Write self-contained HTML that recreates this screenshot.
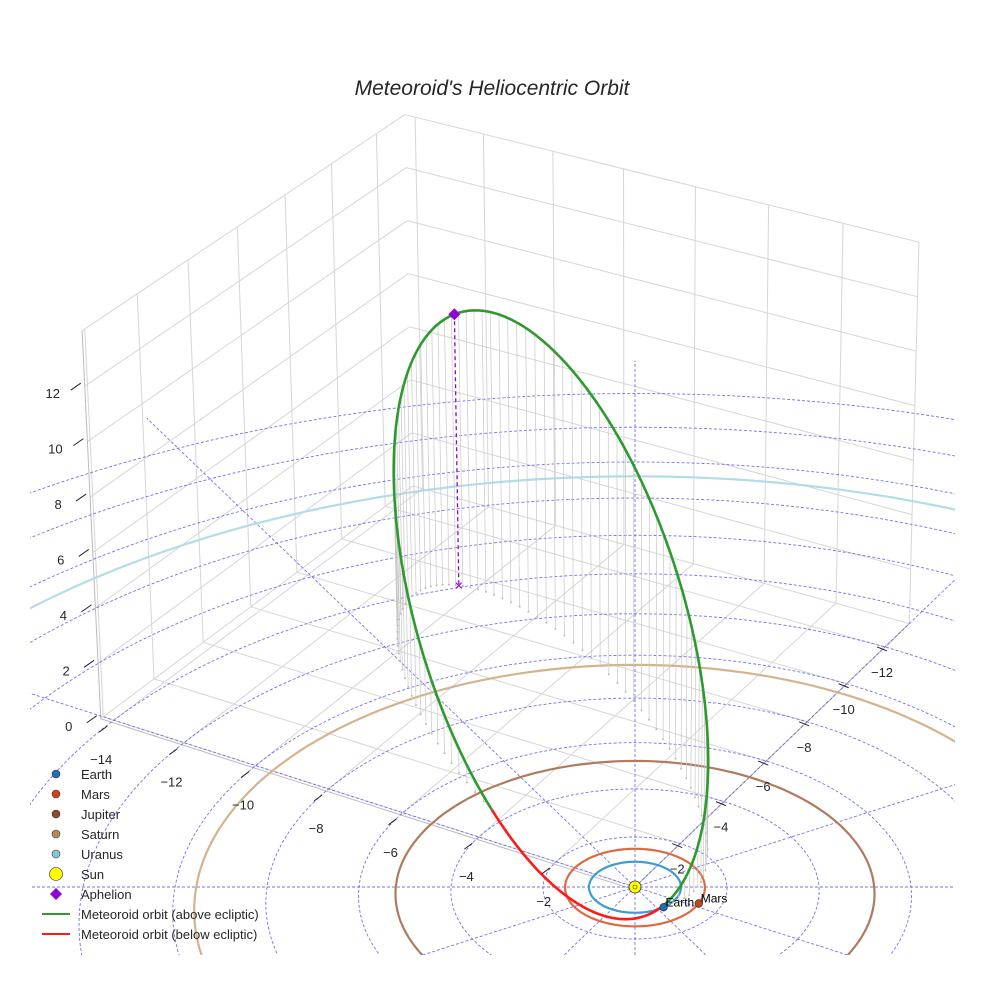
<!DOCTYPE html>
<html><head><meta charset="utf-8">
<style>
html,body{margin:0;padding:0;background:#fff;overflow:hidden;}
svg{display:block;font-family:"Liberation Sans",sans-serif;}
</style></head>
<body>
<svg id="chart" width="984" height="984" viewBox="0 0 984 984">
<defs><clipPath id="clipE"><rect x="30" y="0" width="925" height="955"/></clipPath></defs>
<text x="492" y="95" text-anchor="middle" font-size="21" font-style="italic" fill="#262626">Meteoroid's Heliocentric Orbit</text>
<g id="box"></g>
<g id="ecl" clip-path="url(#clipE)"></g>
<g id="orb" clip-path="url(#clipE)"></g>
<g id="ticks"></g>
<g id="legend"></g>
</svg>
<script>
// ---- data ----
const planetNames = ["Earth", "Mars", "Jupiter", "Saturn", "Uranus"];
const planetRadii = [1.0, 1.52, 5.2, 9.54, 19.2];
const planetColors = ["#3d9bd6", "#dc6a42", "#b07a5e", "#d4b48e", "#b2dde8"];
const markerColors = ["#1f6fb4", "#c8441a", "#8b4a2b", "#b58a62", "#86c6d8"];
const markerAngles = [22, -5];            // heliocentric longitude (deg) of Earth, Mars
const orbitA = 9.05, orbitE = 0.9116, orbitI = 56.5, orbitNode = 194, orbitPeri = 224;
const gridRadii = [2, 4, 6, 8, 10, 12, 14, 16, 18, 20, 22, 24];
const gridSpokes = [0, 30, 60, 90, 120, 150, 180, 210, 240, 270, 300, 330];
const xTicks = [-14, -12, -10, -8, -6, -4, -2];
const yTicks = [-12, -10, -8, -6, -4, -2];
const zTicks = [0, 2, 4, 6, 8, 10, 12];
const xRange = [-14.3, 0], yRange = [-13.3, 0.1], zRange = [0, 14];

// ---- projection ----
const NS = "http://www.w3.org/2000/svg";
const C = Math.cos(Math.PI/6), S = Math.sin(Math.PI/6);
function P(x, y, z) {
  const u = x*C - y*S, v = x*S + y*C;
  const f = 1/(1 - 0.01*v), fz = 1/(1 - 0.004*v);
  return [635 + 46*u*f*(1 + 0.0025*z), 887 + 25.5*v*f - 28.5*z*fz];
}
function mk(tag, attrs, parent) {
  const el = document.createElementNS(NS, tag);
  for (const k in attrs) el.setAttribute(k, attrs[k]);
  parent.appendChild(el);
  return el;
}
function pts(arr) { return arr.map(p => p[0].toFixed(1)+","+p[1].toFixed(1)).join(" "); }

// ---- box & grid ----
const box = document.getElementById("box");
function seg(a, b, col, w, name) {
  const A = P(...a), B = P(...b);
  const l = mk("line", {x1:A[0], y1:A[1], x2:B[0], y2:B[1], stroke:col, "stroke-width":w}, box);
  
  
}
const [x0,x1] = xRange, [y0,y1] = yRange, [z0,z1] = zRange;
const gcol = "#d6d6d6";
for (const t of xTicks.concat([0])) { seg([t,y0,0],[t,y1,0],gcol,1,"floor-grid-x"); seg([t,y0,0],[t,y0,z1],gcol,1,"wall-grid-x"); }
for (const t of yTicks.concat([0])) { seg([x0,t,0],[x1,t,0],gcol,1,"floor-grid-y"); seg([x0,t,0],[x0,t,z1],gcol,1,"wall-grid-y"); }
for (const t of zTicks.concat([14])) { seg([x0,y1,t],[x0,y0,t],gcol,1,"wall-grid-z"); seg([x0,y0,t],[x1,y0,t],gcol,1,"wall-grid-z"); }
seg([x0,y1,0],[x1,y1,0],"#bbb",1,"x-axis-line");
seg([x1,y0,0],[x1,y1,0],"#bbb",1,"y-axis-line");
seg([x0,y1,0],[x0,y1,z1],"#bbb",1,"z-axis-line");

// ---- ecliptic ----
const ecl = document.getElementById("ecl");
function circlePts(r, z) { const a=[]; for (let k=0;k<=360;k+=2){const t=k*Math.PI/180;a.push(P(r*Math.cos(t), r*Math.sin(t), z||0));} return a; }
for (const r of gridRadii) {
  const c = mk("polyline", {points:pts(circlePts(r)), fill:"none", stroke:"#5b5bf0", "stroke-width":0.9, "stroke-dasharray":"3,2", opacity:0.85}, ecl);
  
  
}
for (const a of gridSpokes) {
  const t = a*Math.PI/180, A = P(0,0,0), B = P(26*Math.cos(t), 26*Math.sin(t), 0);
  const l = mk("line", {x1:A[0], y1:A[1], x2:B[0], y2:B[1], stroke:"#5b5bf0", "stroke-width":0.9, "stroke-dasharray":"3,2", opacity:0.85}, ecl);
  
  
}
planetRadii.forEach((r, i) => {
  const c = mk("polyline", {points:pts(circlePts(r)), fill:"none", stroke:planetColors[i], "stroke-width":2.2}, ecl);
  
  
});

// ---- meteoroid orbit ----
const orb = document.getElementById("orb");
const rad = Math.PI/180;
function orbitPos(nu) {
  const p = orbitA*(1-orbitE*orbitE), r = p/(1+orbitE*Math.cos(nu));
  const w = orbitPeri*rad + nu, O = orbitNode*rad, inc = orbitI*rad;
  return [r*(Math.cos(O)*Math.cos(w) - Math.sin(O)*Math.sin(w)*Math.cos(inc)),
          r*(Math.sin(O)*Math.cos(w) + Math.cos(O)*Math.sin(w)*Math.cos(inc)),
          r*Math.sin(w)*Math.sin(inc)];
}
const orbit3 = [];
for (let k=0;k<=1440;k++){
  const E = k/1440*2*Math.PI;
  const nu = 2*Math.atan2(Math.sqrt(1+orbitE)*Math.sin(E/2), Math.sqrt(1-orbitE)*Math.cos(E/2));
  orbit3.push(orbitPos(nu));
}
for (let k=0;k<orbit3.length;k+=14){
  const q = orbit3[k]; if (q[2] <= 0.05) continue;
  const A = P(...q), B = P(q[0],q[1],0);
  const l = mk("line", {x1:A[0], y1:A[1], x2:B[0], y2:B[1], stroke:"#c8c8c8", "stroke-width":0.7}, orb);
  
  
  const d = mk("circle", {cx:B[0], cy:B[1], r:1, fill:"#bbb"}, orb);
  
  
}
let cur = [], curSign = null; const segs = [];
for (const q of orbit3) {
  const s = q[2] >= 0;
  if (curSign === null || s === curSign) { cur.push(P(...q)); }
  else { cur.push(P(...q)); segs.push([curSign, cur]); cur = [P(...q)]; }
  curSign = s;
}
segs.push([curSign, cur]);
segs.forEach(([s, arr]) => {
  const pl = mk("polyline", {points:pts(arr), fill:"none", stroke:s?"#2e9a2e":"#ff1a1a", "stroke-width":2.6, "stroke-linejoin":"round"}, orb);
  
  
});
const aph = orbitPos(Math.PI), AP = P(...aph), AF = P(aph[0], aph[1], 0);
const al = mk("line", {x1:AP[0], y1:AP[1], x2:AF[0], y2:AF[1], stroke:"#9400d3", "stroke-width":1.3, "stroke-dasharray":"4,3"}, orb);


const ad = mk("polygon", {points:`${AP[0]},${AP[1]-6} ${AP[0]+6},${AP[1]} ${AP[0]},${AP[1]+6} ${AP[0]-6},${AP[1]}`, fill:"#9400d3"}, orb);


const ax = mk("text", {x:AF[0], y:AF[1]+5, "text-anchor":"middle", "font-size":15, fill:"#9400d3"}, orb);
ax.textContent = "×";


const SP = P(0,0,0);
const sun = mk("circle", {cx:SP[0], cy:SP[1], r:6, fill:"#ffff00", stroke:"#333", "stroke-width":0.8}, orb);


const sd = mk("circle", {cx:SP[0], cy:SP[1], r:2, fill:"#ffff00", stroke:"#333", "stroke-width":0.6}, orb);


markerAngles.forEach((ang, i) => {
  const r = planetRadii[i], t = ang*rad, M = P(r*Math.cos(t), r*Math.sin(t), 0);
  const c = mk("circle", {cx:M[0], cy:M[1], r:3.8, fill:markerColors[i], stroke:"#222", "stroke-width":0.6}, orb);
  
  
  const tx = mk("text", {x:M[0]+2, y:M[1]-1, "font-size":12, fill:"#000"}, orb);
  tx.textContent = planetNames[i];
  
  
});

// ---- ticks ----
const tg = document.getElementById("ticks");
function tick(A, dx1, dy1, dx2, dy2, lx, ly, label, name) {
  const l = mk("line", {x1:A[0]+dx1, y1:A[1]+dy1, x2:A[0]+dx2, y2:A[1]+dy2, stroke:"#222", "stroke-width":1}, tg);
  
  
  const t = mk("text", {x:A[0]+lx, y:A[1]+ly, "text-anchor":"middle", "font-size":13, fill:"#262626"}, tg);
  t.textContent = String(label).replace("-", "\u2212");
  
  
}
for (const t of xTicks) tick(P(t, y1, 0), -4, 4, -12, 10, -10, 42, t, "x-axis");
for (const t of yTicks) tick(P(x1, t, 0), -8, 0, 2, 4, -3, 30, t, "y-axis");
for (const t of zTicks) tick(P(x0, y1, t), -14, 4, -4, -3, -32, 12, t, "z-axis");

// ---- legend ----
const lg = document.getElementById("legend");
const legendItems = [
  ["Earth","dot","#1f6fb4",4],["Mars","dot","#c8441a",4],["Jupiter","dot","#8b4a2b",4],
  ["Saturn","dot","#b58a62",4],["Uranus","dot","#86c6d8",4],["Sun","dot","#ffff00",6.5],
  ["Aphelion","diamond","#9400d3",6],["Meteoroid orbit (above ecliptic)","line","#2e9a2e",0],
  ["Meteoroid orbit (below ecliptic)","line","#ff1a1a",0]];
legendItems.forEach((it, i) => {
  const y = 774 + i*20;
  let m;
  if (it[1] === "dot") m = mk("circle", {cx:56, cy:y, r:it[3], fill:it[2], stroke:"#333", "stroke-width":0.6}, lg);
  else if (it[1] === "diamond") m = mk("polygon", {points:`56,${y-6} 62,${y} 56,${y+6} 50,${y}`, fill:it[2]}, lg);
  else m = mk("line", {x1:42, y1:y, x2:70, y2:y, stroke:it[2], "stroke-width":2}, lg);
  
  
  const t = mk("text", {x:81, y:y+5, "font-size":13, fill:"#262626"}, lg);
  t.textContent = it[0];
  
  
});
</script>
</body></html>
